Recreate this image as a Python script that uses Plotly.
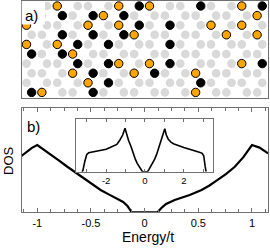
import plotly.graph_objects as go

# ---------------- panel a): honeycomb lattice with impurities ----------------
n_rows = 10
# impurity sites as {row: [column index u]}
black_sites = {0: [22, 34, 46], 1: [7, 13, 19], 2: [22, 28], 3: [7, 13, 19],
               4: [10, 16, 28], 5: [1, 7], 6: [10, 16, 28, 46], 7: [13, 25],
               8: [16, 34], 9: [1, 13]}
orange_sites = {0: [6, 18, 24, 42], 1: [15, 45], 2: [0, 12, 18, 36, 42],
                3: [21, 39, 45], 4: [0, 6], 5: [9], 6: [18, 24, 42],
                7: [9, 21, 33], 8: [12], 9: [3, 33]}

# ---------------- panel b): DOS curves ----------------
energy_main = [-1.15, -1.1, -1.05, -1.0, -0.95, -0.88, -0.8, -0.72, -0.64, -0.57,
               -0.5, -0.41, -0.33, -0.26, -0.2, -0.16, -0.12, 0.0, 0.12, 0.16,
               0.2, 0.28, 0.35, 0.42, 0.53, 0.6, 0.68, 0.76, 0.84, 0.92, 1.0,
               1.07, 1.15]
dos_main = [0.54, 0.58, 0.62, 0.647, 0.61, 0.567, 0.50, 0.438, 0.38, 0.327,
            0.275, 0.215, 0.17, 0.135, 0.10, 0.06, 0.0, 0.0, 0.0, 0.045,
            0.08, 0.118, 0.14, 0.166, 0.215, 0.255, 0.311, 0.37, 0.438, 0.53,
            0.647, 0.622, 0.567]

energy_inset = [-3.25, -3.2, -3.1, -3.0, -2.9, -2.6, -2.3, -2.0, -1.8, -1.6, -1.45,
                -1.3, -1.15, -1.03, -0.95, -0.85, -0.72, -0.6, -0.5, -0.4, -0.3,
                -0.2, -0.13, 0.0, 0.13, 0.2, 0.3, 0.4, 0.5, 0.6, 0.72, 0.85, 0.95,
                1.02, 1.1, 1.2, 1.35, 1.5, 2.0, 2.5, 2.8, 2.95, 3.03, 3.1, 3.15]
dos_inset = [0.0, 0.02, 0.2, 0.33, 0.36, 0.38, 0.40, 0.43, 0.46, 0.49, 0.52,
             0.6, 0.7, 0.83, 0.72, 0.6, 0.48, 0.33, 0.24, 0.16, 0.1,
             0.04, 0.0, 0.0, 0.0, 0.04, 0.1, 0.16, 0.24, 0.33, 0.48, 0.62, 0.72,
             0.82, 0.7, 0.62, 0.56, 0.53, 0.46, 0.41, 0.37, 0.35, 0.3, 0.1, 0.0]

main_tickvals = [-1, -0.5, 0, 0.5, 1]
main_ticktext = ["-1", "-0.5", "0", "0.5", "1"]
inset_tickvals = [-3, -2, -1, 0, 1, 2, 3]
inset_ticktext = ["", "-2", "", "0", "", "2", ""]

W, H = 270, 251
FONT = "Liberation Sans, Arial, sans-serif"
FRAME = "#707070"

def px_x(p):
    return p / W

def px_y(p):
    return 1 - p / H

# lattice sites
lat_u, lat_r = [], []
for r in range(n_rows):
    offs = (0, 4) if r % 2 == 0 else (1, 3)
    for m in range(-1, 9):
        for o in offs:
            lat_u.append(6 * m + o)
            lat_r.append(r)

bu = [u for r, us in black_sites.items() for u in us]
br = [r for r, us in black_sites.items() for u in us]
ou = [u for r, us in orange_sites.items() for u in us]
orr = [r for r, us in orange_sites.items() for u in us]

fig = go.Figure()
fig.add_trace(go.Scatter(x=lat_u, y=lat_r, mode="markers", xaxis="x", yaxis="y",
                         marker=dict(size=8.6, color="#d9d9d9", line=dict(width=0)),
                         showlegend=False, hoverinfo="skip"))
fig.add_trace(go.Scatter(x=bu, y=br, mode="markers", xaxis="x", yaxis="y",
                         marker=dict(size=8.4, color="black", line=dict(width=1, color="black")),
                         showlegend=False))
fig.add_trace(go.Scatter(x=ou, y=orr, mode="markers", xaxis="x", yaxis="y",
                         marker=dict(size=8.4, color="#ffa500", line=dict(width=1, color="black")),
                         showlegend=False))

fig.add_trace(go.Scatter(x=energy_main, y=dos_main, mode="lines", xaxis="x2", yaxis="y2",
                         line=dict(color="black", width=2.2), showlegend=False))
fig.add_trace(go.Scatter(x=energy_inset, y=dos_inset, mode="lines", xaxis="x3", yaxis="y3",
                         line=dict(color="black", width=1.6), showlegend=False))

frame = dict(showline=True, mirror=True, linecolor=FRAME, linewidth=1.3,
             showgrid=False, zeroline=False)

fig.update_layout(
    width=W, height=H, margin=dict(l=0, r=0, t=0, b=0),
    paper_bgcolor="white", plot_bgcolor="white",
    font=dict(family=FONT, color="black"),
    xaxis=dict(domain=[px_x(21.5), px_x(268.3)], range=[-0.976, 47.18], anchor="y",
               showticklabels=False, ticks="", **frame),
    yaxis=dict(domain=[px_y(97.7), px_y(1)], range=[9.55, -0.521], anchor="x",
               showticklabels=False, ticks="", **frame),
    xaxis2=dict(domain=[px_x(21.5), px_x(268.3)], range=[-1.147, 1.152], anchor="y2",
                tickmode="array", tickvals=main_tickvals, ticktext=main_ticktext,
                ticks="inside", ticklen=4, tickcolor=FRAME, tickwidth=1,
                tickfont=dict(size=11), showline=True, mirror="allticks",
                linecolor=FRAME, linewidth=1.3, showgrid=False, zeroline=False,
                minor=dict(ticks="inside", tickmode="linear", tick0=0, dtick=0.125,
                           ticklen=3, tickcolor=FRAME, tickwidth=1, showgrid=False)),
    yaxis2=dict(domain=[px_y(212.3), px_y(108.3)], range=[0, 1], anchor="x2",
                showticklabels=False, ticks="", **frame),
    xaxis3=dict(domain=[px_x(75.7), px_x(213.3)], range=[-3.57, 3.52], anchor="y3",
                tickmode="array", tickvals=inset_tickvals, ticktext=inset_ticktext,
                ticks="inside", ticklen=3, tickcolor=FRAME, tickwidth=1,
                tickfont=dict(size=9.5), showline=True, mirror="allticks",
                linecolor=FRAME, linewidth=1, showgrid=False, zeroline=False),
    yaxis3=dict(domain=[px_y(171.7), px_y(119.3)], range=[0, 1], anchor="x3",
                showticklabels=False, ticks="", showline=True, mirror=True,
                linecolor=FRAME, linewidth=1, showgrid=False, zeroline=False),
    shapes=[
        dict(type="rect", xref="x3 domain", yref="y3 domain", x0=0, x1=1, y0=0, y1=1,
             fillcolor="white", line=dict(width=0), layer="below"),
        dict(type="line", xref="x3", yref="y3 domain", x0=0, x1=0, y0=0, y1=1,
             line=dict(color="#808080", width=1), layer="below"),
        dict(type="rect", xref="x", yref="y", x0=-0.976, x1=3.6, y0=-0.521, y1=1.93,
             fillcolor="white", line=dict(width=0), layer="above"),
    ],
    annotations=[
        dict(text="a)", xref="paper", yref="paper", x=px_x(31), y=px_y(16),
             xanchor="center", yanchor="middle", showarrow=False, font=dict(size=15)),
        dict(text="b)", xref="paper", yref="paper", x=px_x(33.5), y=px_y(126),
             xanchor="center", yanchor="middle", showarrow=False, font=dict(size=15)),
        dict(text="DOS", xref="paper", yref="paper", x=px_x(8), y=px_y(161),
             xanchor="center", yanchor="middle", textangle=-90, showarrow=False,
             font=dict(size=13)),
        dict(text="Energy/t", xref="paper", yref="paper", x=px_x(148), y=px_y(237),
             xanchor="center", yanchor="middle", showarrow=False, font=dict(size=14)),
    ],
)

fig.write_html(
    "out.html",
    config={"displayModeBar": False},
    post_script="document.body.style.margin='0';document.body.style.padding='0';"
                "document.documentElement.style.overflow='hidden';",
)
